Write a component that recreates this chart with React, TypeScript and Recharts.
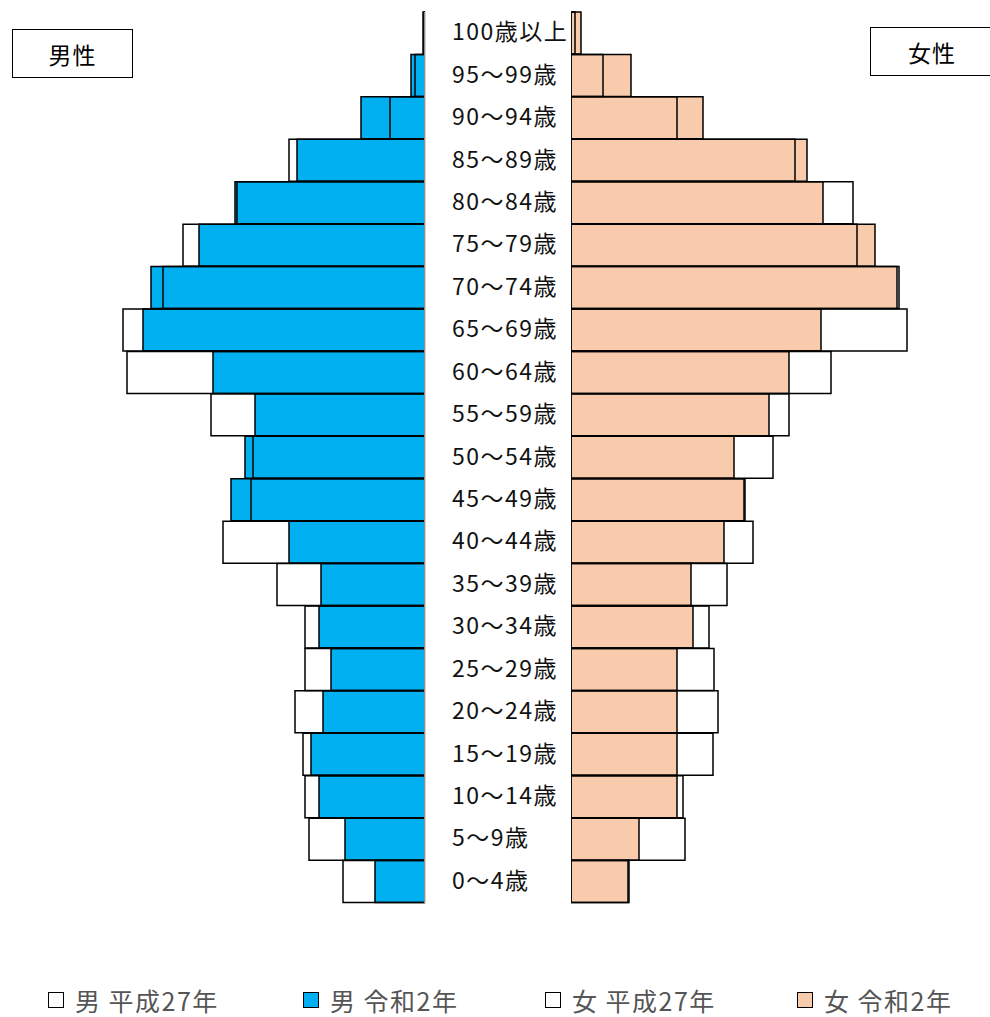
import React from "react"
import { Bar, BarChart, XAxis, YAxis } from "recharts"

// age groups, top to bottom
const ageGroups = [
  "100歳以上", "95～99歳", "90～94歳", "85～89歳", "80～84歳", "75～79歳", "70～74歳",
  "65～69歳", "60～64歳", "55～59歳", "50～54歳", "45～49歳", "40～44歳", "35～39歳",
  "30～34歳", "25～29歳", "20～24歳", "15～19歳", "10～14歳", "5～9歳", "0～4歳",
]

const maleH27 = [1, 10, 35, 136, 188, 242, 262, 302, 298, 214, 172, 174, 202, 148, 120, 120, 130, 122, 120, 116, 82]
const maleR2 = [2, 14, 64, 128, 190, 226, 274, 282, 212, 170, 180, 194, 136, 104, 106, 94, 102, 114, 106, 80, 50]
const femaleH27 = [4, 32, 106, 224, 282, 286, 328, 336, 260, 218, 202, 173, 182, 156, 138, 143, 147, 142, 112, 114, 58]
const femaleR2 = [10, 60, 132, 236, 252, 304, 326, 250, 218, 198, 163, 174, 153, 120, 122, 106, 106, 106, 106, 68, 57]

const legendItems = [
  { label: "男 平成27年", color: "#ffffff", width: 255 },
  { label: "男 令和2年", color: "#00b0f0", width: 242 },
  { label: "女 平成27年", color: "#ffffff", width: 252 },
  { label: "女 令和2年", color: "#f8cbad", width: 190 },
]

const maxValue = 400
const font = "'Noto Sans CJK JP', 'Noto Sans', sans-serif"

const data = ageGroups.map((age, i) => ({
  age,
  maleH27: maleH27[i],
  maleR2: maleR2[i],
  femaleH27: femaleH27[i],
  femaleR2: femaleR2[i],
}))

function AgeTick(props: any) {
  const { x, y, payload } = props
  return (
    <text
      x={x + 27}
      y={y - 3}
      dominantBaseline="central"
      textAnchor="start"
      fontSize={23}
      letterSpacing={1.5}
      fontFamily={font}
      fill="#111"
    >
      {payload.value}
    </text>
  )
}

function SexBox({ label, left, top, width }: { label: string; left: number; top: number; width: number }) {
  return (
    <div
      style={{
        position: "absolute",
        left,
        top,
        width,
        height: 49,
        border: "1.5px solid #000",
        boxSizing: "border-box",
        display: "flex",
        alignItems: "center",
        justifyContent: "center",
        fontFamily: font,
        fontSize: 23,
        letterSpacing: 1,
        background: "#fff",
      }}
    >
      <span style={{ paddingRight: width > 122 ? 6 : 0 }}>{label}</span>
    </div>
  )
}

export default function App() {
  return (
    <div style={{ position: "absolute", left: 0, top: 0, width: 990, height: 1017, background: "#fff", overflow: "hidden" }}>
      <div style={{ position: "absolute", left: 0, top: 0 }}>
        <BarChart
          width={571}
          height={920}
          data={data}
          layout="vertical"
          barCategoryGap={0}
          margin={{ top: 12, right: 0, left: 25, bottom: 17 }}
        >
          <XAxis type="number" domain={[0, maxValue]} reversed hide allowDataOverflow />
          <YAxis
            yAxisId="cat"
            type="category"
            dataKey="age"
            orientation="right"
            width={146}
            tickSize={0}
            tickMargin={0}
            tickLine={false}
            axisLine={{ stroke: "#bfbfbf", strokeWidth: 1.5 }}
            tick={<AgeTick />}
            interval={0}
          />
          <YAxis yAxisId="cat2" type="category" dataKey="age" orientation="right" hide />
          <Bar yAxisId="cat" dataKey="maleR2" fill="#00b0f0" stroke="#000" strokeWidth={1.5} isAnimationActive={false} />
          <Bar yAxisId="cat2" dataKey="maleH27" fill="none" stroke="#000" strokeWidth={1.5} isAnimationActive={false} />
        </BarChart>
      </div>

      <div style={{ position: "absolute", left: 571, top: 0 }}>
        <BarChart
          width={419}
          height={920}
          data={data}
          layout="vertical"
          barCategoryGap={0}
          margin={{ top: 12, right: 19, left: 0, bottom: 17 }}
        >
          <XAxis type="number" domain={[0, maxValue]} hide allowDataOverflow />
          <YAxis
            yAxisId="cat"
            type="category"
            dataKey="age"
            width={0}
            tick={false}
            tickLine={false}
            axisLine={{ stroke: "#000", strokeWidth: 1.5 }}
          />
          <YAxis yAxisId="cat2" type="category" dataKey="age" hide />
          <Bar yAxisId="cat" dataKey="femaleR2" fill="#f8cbad" stroke="#000" strokeWidth={1.5} isAnimationActive={false} />
          <Bar yAxisId="cat2" dataKey="femaleH27" fill="none" stroke="#000" strokeWidth={1.5} isAnimationActive={false} />
        </BarChart>
      </div>

      <SexBox label="男性" left={12} top={29} width={121} />
      <SexBox label="女性" left={870} top={27} width={130} />

      <div
        style={{
          position: "absolute",
          left: 48,
          top: 982,
          display: "flex",
          fontFamily: font,
          fontSize: 25,
          letterSpacing: 1.5,
          color: "#555",
          whiteSpace: "nowrap",
          lineHeight: "36px",
        }}
      >
        {legendItems.map((item) => (
          <div key={item.label} style={{ width: item.width, display: "flex", alignItems: "center" }}>
            <span
              style={{
                display: "inline-block",
                width: 14,
                height: 14,
                border: "1.5px solid #000",
                background: item.color,
                marginRight: 11,
                flexShrink: 0,
              }}
            />
            <span>{item.label}</span>
          </div>
        ))}
      </div>
    </div>
  )
}
